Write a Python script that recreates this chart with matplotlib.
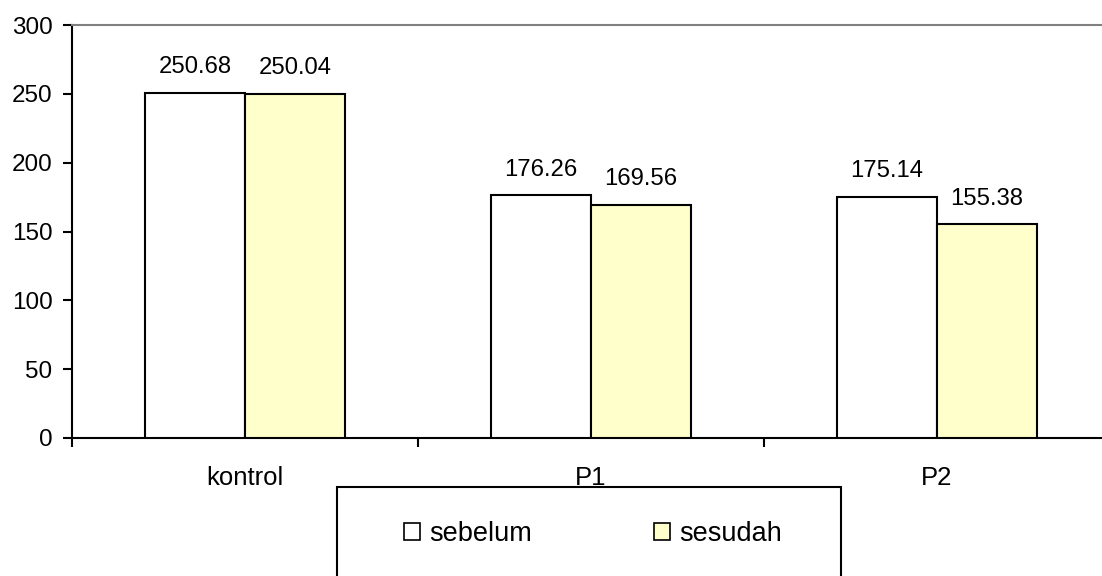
import matplotlib.pyplot as plt
from matplotlib.patches import Patch, Rectangle

categories = ['kontrol', 'P1', 'P2']
sebelum = [250.68, 176.26, 175.14]
sesudah = [250.04, 169.56, 155.38]
series_names = ['sebelum', 'sesudah']
yticks = [0, 50, 100, 150, 200, 250, 300]

plt.rcParams['font.family'] = ['Liberation Sans', 'DejaVu Sans']
plt.rcParams['font.size'] = 17

W, H = 1102, 576
fig = plt.figure(figsize=(W / 100, H / 100), dpi=100)
# plot area runs past the right edge, like the original
ax = fig.add_axes([72 / W, 138 / H, 1038 / W, 413 / H])

x = list(range(len(categories)))
bw = 0.289
colors = ['white', '#FFFFCC']
lw = 1.5

for i, (vals, c) in enumerate(zip([sebelum, sesudah], colors)):
    xs = [xi + (i - 0.5) * bw for xi in x]
    bars = ax.bar(xs, vals, width=bw, color=c, edgecolor='black', linewidth=lw, zorder=3)
    for b, v in zip(bars, vals):
        ax.annotate(f'{v:.2f}', (b.get_x() + b.get_width() / 2, v),
                    xytext=(0, 14), textcoords='offset points',
                    ha='center', va='baseline', fontsize=17.2)

ax.set_xlim(-0.5, 2.5)
ax.set_ylim(0, 300)
ax.set_yticks(yticks)
ax.tick_params(axis='y', direction='out', length=6.5, width=lw, pad=7.5, labelsize=17.5)

# boundary ticks on x axis, category labels between
ax.set_xticks([-0.5, 0.5, 1.5, 2.5])
ax.set_xticklabels([])
ax.tick_params(axis='x', which='major', direction='out', length=6.5, width=lw)
ax.set_xticks(x, minor=True)
ax.set_xticklabels(categories, minor=True)
ax.tick_params(axis='x', which='minor', length=0, pad=20, labelsize=18.5)

ax.spines['left'].set_linewidth(lw)
ax.spines['bottom'].set_linewidth(lw)
ax.spines['top'].set_color('#808080')
ax.spines['top'].set_linewidth(lw)
ax.spines['right'].set_visible(False)

# legend box, cut off at the bottom of the picture
fig.patches.append(Rectangle((337 / W, -0.1), (841 - 337) / W, 0.1 + (576 - 487) / H,
                             transform=fig.transFigure, facecolor='white',
                             edgecolor='black', linewidth=lw, zorder=1))
handles = [Patch(facecolor=c, edgecolor='black', linewidth=1.2) for c in colors]
fig.legend(handles, series_names, loc='center', bbox_to_anchor=(593 / W, 1 - 534 / H),
           ncol=2, frameon=False, fontsize=19.5, handlelength=0.6, handleheight=0.6,
           handletextpad=0.35, columnspacing=4.5)

fig.savefig('out.png', dpi=100)
